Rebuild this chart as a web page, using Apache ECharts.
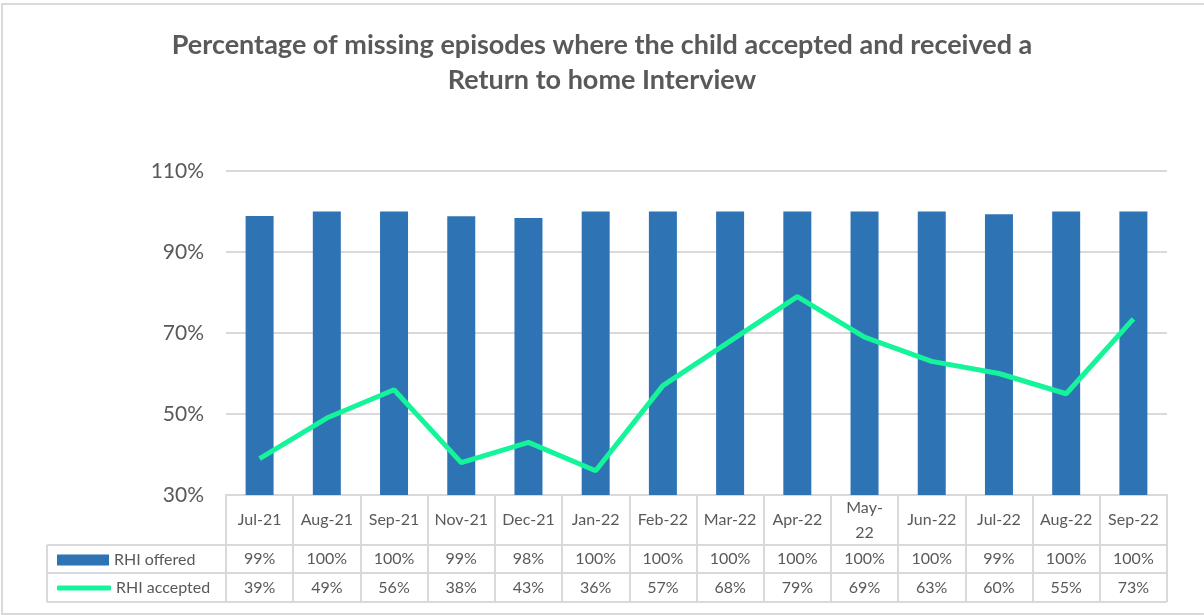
<!DOCTYPE html>
<html>
<head>
<meta charset="utf-8">
<script src="https://cdn.jsdelivr.net/npm/echarts@6/dist/echarts.min.js"></script>
<style>
  body { margin: 0; background: #fff; }
  #chart { width: 1204px; height: 615px; }
</style>
</head>
<body>
<div id="chart"></div>
<script>
// data
const months = ['Jul-21', 'Aug-21', 'Sep-21', 'Nov-21', 'Dec-21', 'Jan-22', 'Feb-22',
  'Mar-22', 'Apr-22', 'May-\n22', 'Jun-22', 'Jul-22', 'Aug-22', 'Sep-22'];
const offered = [98.9, 100, 100, 98.8, 98.4, 100, 100, 100, 100, 100, 100, 99.3, 100, 100];
const accepted = [39, 49, 56, 38, 43, 36, 57, 68, 79, 69, 63, 60, 55, 73.5];
const offeredLabels = ['99%', '100%', '100%', '99%', '98%', '100%', '100%', '100%', '100%', '100%', '100%', '99%', '100%', '100%'];
const acceptedLabels = ['39%', '49%', '56%', '38%', '43%', '36%', '57%', '68%', '79%', '69%', '63%', '60%', '55%', '73%'];

const grey = '#595959';
const gridGrey = '#d9d9d9';
const font = 'Lato, "Open Sans", sans-serif';

const chart = echarts.init(document.getElementById('chart'));

// table lines below the plot
const tableLeft = 47, tableRight = 1167;
const rowLines = [545, 573, 602];

chart.setOption({
  backgroundColor: '#fff',
  animation: false,
  textStyle: { fontFamily: font },
  title: {
    text: 'Percentage of missing episodes where the child accepted and received a\nReturn to home Interview',
    left: 'center',
    top: 23,
    textStyle: { fontSize: 27, fontWeight: 'bold', color: grey, lineHeight: 35, fontFamily: font }
  },
  legend: [
    {
      data: ['RHI offered'], left: 52, top: 547, icon: 'rect',
      itemWidth: 52, itemHeight: 11, itemGap: 0,
      textStyle: { fontSize: 16, color: grey, fontFamily: font }
    },
    {
      data: ['RHI accepted'], left: 52, top: 575, icon: 'roundRect',
      itemWidth: 54, itemHeight: 5, itemGap: 0,
      textStyle: { fontSize: 16, color: grey, fontFamily: font },
      itemStyle: { borderWidth: 0 }
    }
  ],
  grid: { left: 226, right: 37, top: 171, bottom: 120 },
  xAxis: {
    type: 'category',
    data: months,
    axisLine: { lineStyle: { color: gridGrey, width: 2 } },
    axisTick: { show: true, length: 107, lineStyle: { color: gridGrey, width: 2 } },
    axisLabel: {
      margin: 0,
      interval: 0,
      formatter: function (value, idx) {
        const head = value.indexOf('\n') >= 0
          ? value.split('\n').map(s => '{h2|' + s + '}').join('\n')
          : '{h|' + value + '}';
        return head + '\n{r1|' + offeredLabels[idx] + '}\n{r2|' + acceptedLabels[idx] + '}';
      },
      rich: {
        h: { fontSize: 16, color: grey, lineHeight: 50, fontFamily: font },
        h2: { fontSize: 16, color: grey, lineHeight: 25, fontFamily: font },
        r1: { fontSize: 16, color: grey, lineHeight: 28, fontFamily: font },
        r2: { fontSize: 16, color: grey, lineHeight: 29, fontFamily: font }
      }
    }
  },
  yAxis: {
    type: 'value',
    min: 30,
    max: 110,
    interval: 20,
    axisLine: { show: false },
    axisTick: { show: false },
    axisLabel: { formatter: '{value}%', fontSize: 21, color: grey, margin: 22, fontFamily: font },
    splitLine: { lineStyle: { color: gridGrey, width: 2 } }
  },
  series: [
    {
      name: 'RHI offered',
      type: 'bar',
      data: offered,
      barWidth: 28,
      itemStyle: { color: '#2e74b5' }
    },
    {
      name: 'RHI accepted',
      type: 'line',
      data: accepted,
      showSymbol: false,
      symbol: 'none',
      lineStyle: { color: '#14f59a', width: 5 },
      itemStyle: { color: '#14f59a' }
    }
  ],
  graphic: [
    {
      type: 'rect', silent: true,
      shape: { x: 2, y: 4, width: 1220, height: 610 },
      style: { fill: 'none', stroke: gridGrey, lineWidth: 2 }
    },
    ...rowLines.map(y => ({
      type: 'line', silent: true,
      shape: { x1: tableLeft, y1: y, x2: tableRight, y2: y },
      style: { stroke: gridGrey, lineWidth: 2 }
    })),
    {
      type: 'line', silent: true,
      shape: { x1: tableLeft, y1: 545, x2: tableLeft, y2: 602 },
      style: { stroke: gridGrey, lineWidth: 2 }
    },
    {
      type: 'line', silent: true,
      shape: { x1: 226, y1: 545, x2: 226, y2: 602 },
      style: { stroke: gridGrey, lineWidth: 2 }
    }
  ]
});
</script>
</body>
</html>
